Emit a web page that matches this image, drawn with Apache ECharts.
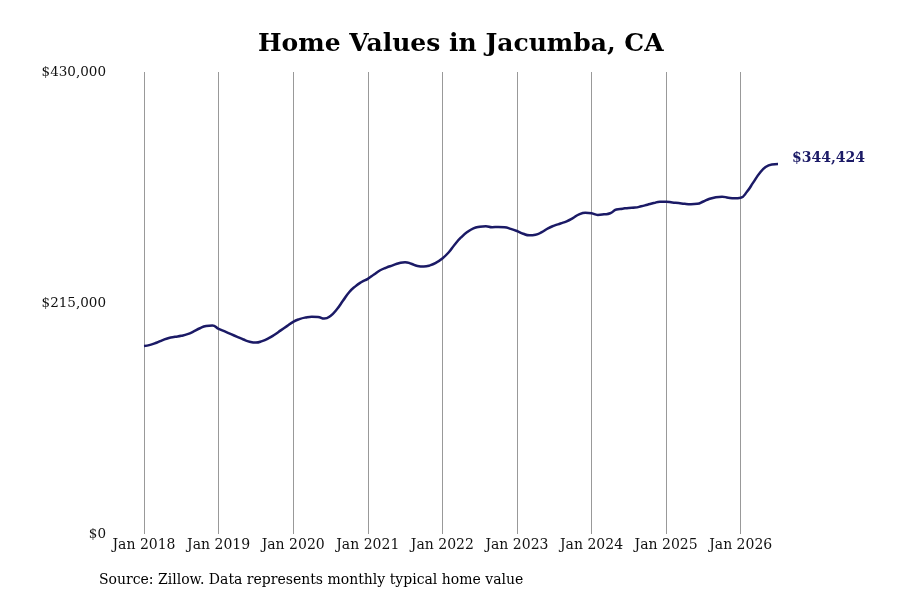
<!DOCTYPE html>
<html>
<head>
<meta charset="utf-8">
<script src="https://cdn.jsdelivr.net/npm/echarts@6/dist/echarts.min.js"></script>
<style>
  html, body { margin: 0; padding: 0; background: #fff; }
  #main { width: 900px; height: 600px; }
</style>
</head>
<body>
<div id="main"></div>
<script>
// 数据
var monthNames = ['Jan', 'Feb', 'Mar', 'Apr', 'May', 'Jun', 'Jul', 'Aug', 'Sep', 'Oct', 'Nov', 'Dec'];
var years = [2018, 2019, 2020, 2021, 2022, 2023, 2024, 2025, 2026];
var yTicks = [0, 215000, 430000];

// monthly typical home value, Jan 2018 - Jul 2026
var homeValues = [
  175000, 176000, 178000, 180500, 182500, 183500, 184500, 186000, 188500, 191500, 193500, 194000,
  191000, 188500, 186000, 183500, 181000, 179000, 178200, 179500, 182000, 185500, 189500, 193500,
  197500, 200000, 201500, 202200, 202000, 200500, 203000, 209000, 217000, 225000, 230500, 234500,
  237500, 241500, 245500, 248000, 250000, 252000, 253000, 251500, 249500, 249000, 250000, 252500,
  256500, 262000, 269500, 276000, 281000, 284500, 286000, 286500, 285500, 285800, 285500, 284000,
  282000, 279500, 278000, 278500, 281000, 284500, 287000, 289000, 291000, 294000, 297500, 299000,
  298500, 297000, 297500, 298500, 302000, 302800, 303500, 303800, 305000, 306500, 308000, 309300,
  309300, 308500, 308000, 307300, 307000, 307300, 309500, 312000, 313500, 314000, 313000, 312500,
  313000, 318500, 327000, 335500, 341500, 344000, 344424
];

var months = [];
years.forEach(function (y) {
  monthNames.forEach(function (m) {
    months.push(m + ' ' + y);
  });
});
months = months.slice(0, homeValues.length);

var myChart = echarts.init(document.getElementById('main'));

var font = 'DejaVu Serif';
var navy = '#1b1a66';

var option = {
  backgroundColor: '#fff',
  animation: false,
  title: {
    text: 'Home Values in Jacumba, CA',
    left: 253,
    top: 27,
    textStyle: { fontFamily: font, fontSize: 25, fontWeight: 'bold', color: '#000' }
  },
  grid: { left: 144, right: 122, top: 72, bottom: 66 },
  xAxis: {
    type: 'category',
    data: months,
    boundaryGap: false,
    axisLine: { show: false },
    axisTick: { show: false },
    axisLabel: {
      interval: function (i) { return i % 12 === 0; },
      margin: 4,
      fontFamily: font,
      fontSize: 14,
      color: '#111'
    },
    splitLine: {
      show: true,
      interval: function (i) { return i % 12 === 0; },
      lineStyle: { color: '#999', width: 1 }
    }
  },
  yAxis: {
    type: 'value',
    min: yTicks[0],
    max: yTicks[yTicks.length - 1],
    interval: yTicks[1] - yTicks[0],
    axisLine: { show: false },
    axisTick: { show: false },
    splitLine: { show: false },
    axisLabel: {
      margin: 38,
      fontFamily: font,
      fontSize: 13.5,
      color: '#111',
      formatter: function (v) { return '$' + v.toLocaleString('en-US'); }
    }
  },
  series: [{
    type: 'line',
    data: homeValues,
    smooth: true,
    symbol: 'none',
    lineStyle: { color: navy, width: 2.5 },
    endLabel: {
      show: true,
      offset: [6, -6],
      fontFamily: font,
      fontSize: 14,
      fontWeight: 'bold',
      color: navy,
      formatter: function (p) { return '$' + p.value.toLocaleString('en-US'); }
    }
  }],
  graphic: [{
    type: 'text',
    left: 99,
    top: 573,
    style: {
      text: 'Source: Zillow. Data represents monthly typical home value',
      font: '14px "DejaVu Serif"',
      fill: '#000'
    }
  }]
};

myChart.setOption(option);
</script>
</body>
</html>
